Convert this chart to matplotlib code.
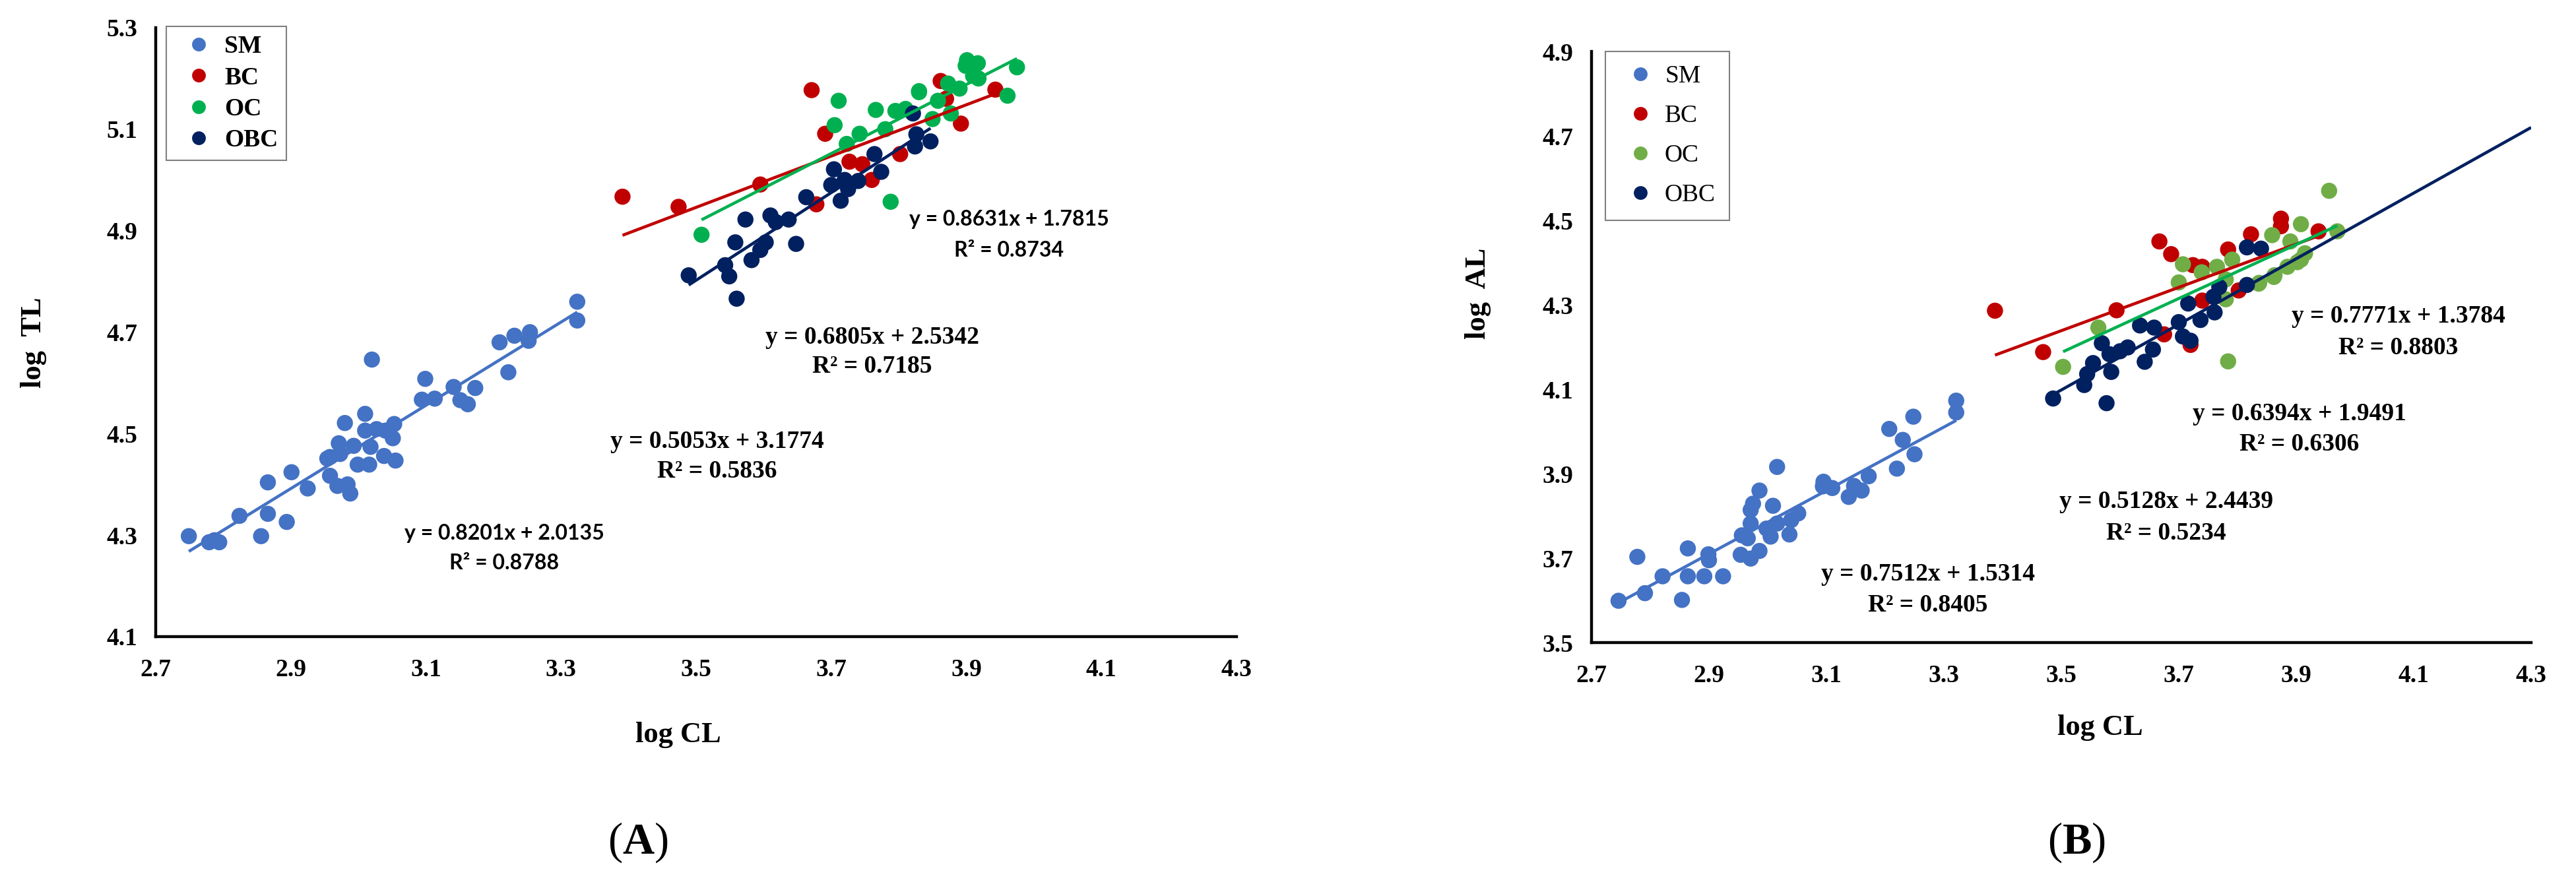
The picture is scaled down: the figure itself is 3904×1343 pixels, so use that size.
import matplotlib
matplotlib.use("Agg")
import numpy as np
import matplotlib.pyplot as plt
from matplotlib.lines import Line2D

plt.rcParams['font.family'] = ['Liberation Serif', 'DejaVu Serif']
plt.rcParams['mathtext.fontset'] = 'custom'
plt.rcParams['mathtext.rm'] = 'Liberation Serif'
plt.rcParams['mathtext.bf'] = 'Liberation Serif:bold'

groups = ['SM', 'BC', 'OC', 'OBC']

# ---- panel A: log CL vs log TL ----
a_sm_x = [2.749, 2.779, 2.794, 2.787, 2.824, 2.866, 2.856, 2.894, 2.866, 2.901, 2.925, 2.958, 2.958, 2.969,
          2.988, 2.984, 2.971, 2.980, 3.010, 2.999, 3.016, 3.010, 3.027, 3.018, 3.040, 3.053, 3.051, 3.038,
          3.055, 2.993, 2.954, 2.973, 3.020, 3.099, 3.094, 3.113, 3.141, 3.151, 3.162, 3.173, 3.209, 3.231,
          3.254, 3.252, 3.222, 3.324, 3.324]
a_sm_y = [4.298, 4.286, 4.286, 4.290, 4.338, 4.342, 4.298, 4.326, 4.404, 4.424, 4.392, 4.454, 4.417, 4.397,
          4.382, 4.400, 4.481, 4.521, 4.539, 4.439, 4.439, 4.506, 4.509, 4.474, 4.506, 4.519, 4.491, 4.456,
          4.447, 4.476, 4.451, 4.460, 4.646, 4.608, 4.567, 4.569, 4.592, 4.566, 4.558, 4.590, 4.680, 4.693,
          4.700, 4.683, 4.621, 4.760, 4.723]
a_bc_x = [3.391, 3.474, 3.595, 3.671, 3.691, 3.727, 3.746, 3.678, 3.802, 3.892, 3.862, 3.943, 3.870, 3.760]
a_bc_y = [4.967, 4.947, 4.991, 5.177, 5.091, 5.036, 5.031, 4.952, 5.051, 5.111, 5.195, 5.178, 5.160, 5.000]
a_oc_x = [3.508, 3.711, 3.705, 3.788, 3.742, 3.766, 3.795, 3.830, 3.780, 3.723, 3.810, 3.858, 3.877, 3.873,
          3.899, 3.910, 3.918, 3.901, 3.917, 3.975, 3.961, 3.830, 3.850, 3.890]
a_oc_y = [4.892, 5.156, 5.108, 4.957, 5.091, 5.138, 5.136, 5.173, 5.100, 5.071, 5.140, 5.156, 5.131, 5.190,
          5.225, 5.205, 5.200, 5.236, 5.230, 5.222, 5.166, 5.175, 5.120, 5.180]
a_obc_x = [3.489, 3.543, 3.549, 3.560, 3.558, 3.573, 3.582, 3.595, 3.603, 3.618, 3.648, 3.637, 3.663, 3.704,
           3.714, 3.725, 3.720, 3.740, 3.764, 3.774, 3.821, 3.824, 3.826, 3.847, 3.700, 3.610]
a_obc_y = [4.812, 4.832, 4.810, 4.766, 4.877, 4.922, 4.842, 4.862, 4.877, 4.917, 4.874, 4.922, 4.966, 5.021,
           4.959, 4.982, 5.000, 4.998, 5.051, 5.016, 5.131, 5.066, 5.090, 5.076, 4.990, 4.930]
a_slope = [0.8201, 0.5053, 0.6805, 0.8631]
a_inter = [2.0135, 3.1774, 2.5342, 1.7815]
a_r2 = [0.8788, 0.5836, 0.7185, 0.8734]

# ---- panel B: log CL vs log AL ----
b_sm_x = [2.746, 2.791, 2.778, 2.821, 2.854, 2.864, 2.864, 2.892, 2.899, 2.900, 2.924, 2.954, 2.971, 2.986,
          2.956, 2.966, 2.971, 2.971, 2.975, 2.986, 3.005, 3.009, 2.998, 3.016, 3.037, 3.040, 3.052, 3.016,
          3.095, 3.110, 3.094, 3.138, 3.147, 3.160, 3.172, 3.220, 3.207, 3.230, 3.248, 3.250, 3.321, 3.321]
b_sm_y = [3.599, 3.617, 3.703, 3.657, 3.601, 3.657, 3.723, 3.657, 3.709, 3.695, 3.657, 3.708, 3.699, 3.717,
          3.754, 3.747, 3.782, 3.814, 3.829, 3.860, 3.751, 3.824, 3.770, 3.782, 3.756, 3.790, 3.806, 3.916,
          3.881, 3.866, 3.870, 3.845, 3.871, 3.860, 3.894, 3.912, 4.006, 3.980, 4.035, 3.946, 4.073, 4.045]
b_bc_x = [3.387, 3.469, 3.594, 3.667, 3.687, 3.724, 3.740, 3.784, 3.823, 3.874, 3.874, 3.675, 3.720, 3.802,
          3.740, 3.938]
b_bc_y = [4.286, 4.188, 4.287, 4.450, 4.420, 4.394, 4.390, 4.431, 4.467, 4.504, 4.486, 4.230, 4.205, 4.334,
          4.310, 4.474]
b_oc_x = [3.503, 3.563, 3.784, 3.707, 3.700, 3.739, 3.765, 3.780, 3.780, 3.791, 3.836, 3.859, 3.862, 3.885,
          3.908, 3.908, 3.890, 3.956, 3.970, 3.915, 3.902, 3.863, 3.837]
b_oc_y = [4.153, 4.246, 4.166, 4.396, 4.353, 4.377, 4.390, 4.360, 4.313, 4.407, 4.350, 4.465, 4.366, 4.390,
          4.407, 4.491, 4.450, 4.570, 4.474, 4.422, 4.401, 4.370, 4.352]
b_obc_x = [3.486, 3.577, 3.539, 3.544, 3.554, 3.569, 3.582, 3.585, 3.613, 3.634, 3.642, 3.656, 3.658, 3.700,
           3.707, 3.720, 3.716, 3.737, 3.761, 3.759, 3.769, 3.816, 3.816, 3.840, 3.600]
b_obc_y = [4.078, 4.067, 4.110, 4.136, 4.162, 4.209, 4.183, 4.141, 4.199, 4.251, 4.165, 4.194, 4.246, 4.259,
           4.225, 4.215, 4.303, 4.264, 4.282, 4.319, 4.342, 4.347, 4.436, 4.433, 4.190]
b_slope = [0.7512, 0.5128, 0.6394, 0.7771]
b_inter = [1.5314, 2.4439, 1.9491, 1.3784]
b_r2 = [0.8405, 0.5234, 0.6306, 0.8803]

x_ticks = [2.7, 2.9, 3.1, 3.3, 3.5, 3.7, 3.9, 4.1, 4.3]
a_y_ticks = [4.1, 4.3, 4.5, 4.7, 4.9, 5.1, 5.3]
b_y_ticks = [3.5, 3.7, 3.9, 4.1, 4.3, 4.5, 4.7, 4.9]

W, H = 3905, 1343
fig = plt.figure(figsize=(W / 100, H / 100), dpi=100)


def px_axes(l, r, t, b):
    return fig.add_axes([l / W, 1 - b / H, (r - l) / W, (b - t) / H])


def setup(ax, yticks):
    ax.set_xlim(x_ticks[0], x_ticks[-1])
    ax.set_ylim(yticks[0], yticks[-1])
    ax.set_xticks(x_ticks)
    ax.set_yticks(yticks)
    ax.set_xticklabels([f'{v:.1f}' for v in x_ticks])
    ax.set_yticklabels([f'{v:.1f}' for v in yticks])
    for s in ['top', 'right']:
        ax.spines[s].set_visible(False)
    for s in ['left', 'bottom']:
        ax.spines[s].set_linewidth(3.2)
        ax.spines[s].set_color('black')
    ax.tick_params(axis='both', length=0, labelsize=27)
    ax.tick_params(axis='x', pad=24)
    ax.tick_params(axis='y', pad=20)
    for lab in ax.get_xticklabels() + ax.get_yticklabels():
        lab.set_fontweight('bold')


def draw_panel(ax, xs, ys, pt_colors, ln_colors, slopes, inters, extend_last):
    for x, y, c in zip(xs, ys, pt_colors):
        ax.scatter(x, y, s=310, color=c, edgecolors='none', zorder=2)
    for i, (x, m, b, c) in enumerate(zip(xs, slopes, inters, ln_colors)):
        x0, x1 = min(x), max(x)
        if extend_last and i == len(xs) - 1:
            x1 = x_ticks[-1]
        xx = np.array([x0, x1])
        ax.plot(xx, m * xx + b, color=c, lw=3.3, solid_capstyle='butt', zorder=3)


def eq_text(ax, x, y, m, b, r2, fam, size, dy):
    ax.text(x, y, f'y = {m:.4f}x + {b:.4f}', ha='center', va='center', fontsize=size,
            fontweight='bold', family=fam, zorder=5)
    ax.text(x, y - dy, f'R\u00b2 = {r2:.4f}', ha='center', va='center', fontsize=size,
            fontweight='bold', family=fam, zorder=5)


def make_legend(ax, colors, anchor, bold, spacing, bpad, hlen):
    handles = [Line2D([], [], marker='o', linestyle='none', markersize=15, color=c, markeredgewidth=0)
               for c in colors]
    leg = ax.legend(handles, groups, loc='upper left', bbox_to_anchor=(anchor[0] / W, 1 - anchor[1] / H),
                    bbox_transform=fig.transFigure, borderaxespad=0, frameon=True, fancybox=False,
                    edgecolor='#808080', framealpha=1, labelspacing=spacing,
                    borderpad=bpad, handlelength=hlen, handletextpad=0.1,
                    prop={'family': 'Liberation Serif', 'size': 27, 'weight': 'bold' if bold else 'normal'})
    leg.get_frame().set_linewidth(1.5)


serif = ['Liberation Serif', 'DejaVu Serif']
sans = ['Lato', 'DejaVu Sans']

# panel A
axA = px_axes(236, 1874, 42, 965)
setup(axA, a_y_ticks)
colA = ['#4472C4', '#C00000', '#00B050', '#002060']
draw_panel(axA, [a_sm_x, a_bc_x, a_oc_x, a_obc_x], [a_sm_y, a_bc_y, a_oc_y, a_obc_y],
           colA, colA, a_slope, a_inter, False)
eq_text(axA, 3.216, 4.303, a_slope[0], a_inter[0], a_r2[0], sans, 23, 0.058)
eq_text(axA, 3.531, 4.484, a_slope[1], a_inter[1], a_r2[1], serif, 27, 0.058)
eq_text(axA, 3.761, 4.690, a_slope[2], a_inter[2], a_r2[2], serif, 27, 0.058)
eq_text(axA, 3.963, 4.922, a_slope[3], a_inter[3], a_r2[3], sans, 23, 0.061)
make_legend(axA, colA, (252, 40), True, 0.33, 0.35, 1.9)
axA.set_ylabel('log  TL', fontsize=32, fontweight='bold')
axA.yaxis.label.set_va('center')
axA.yaxis.set_label_coords((51 - 236) / 1638, (965 - 519) / 923)
axA.set_xlabel('log CL', fontsize=32, fontweight='bold')
axA.xaxis.label.set_va('center')
axA.xaxis.set_label_coords((1028 - 236) / 1638, (965 - 1114) / 923)
fig.text(967 / W, 1 - 1277 / H, r'($\mathbf{A}$)', ha='center', va='center', fontsize=48)

# panel B
axB = px_axes(2412, 3836, 78, 974)
setup(axB, b_y_ticks)
ptB = ['#4472C4', '#C00000', '#70AD47', '#002060']
lnB = ['#4472C4', '#C00000', '#00B050', '#002060']
draw_panel(axB, [b_sm_x, b_bc_x, b_oc_x, b_obc_x], [b_sm_y, b_bc_y, b_oc_y, b_obc_y],
           ptB, lnB, b_slope, b_inter, True)
eq_text(axB, 3.273, 3.661, b_slope[0], b_inter[0], b_r2[0], serif, 27, 0.072)
eq_text(axB, 3.679, 3.833, b_slope[1], b_inter[1], b_r2[1], serif, 27, 0.075)
eq_text(axB, 3.905, 4.042, b_slope[2], b_inter[2], b_r2[2], serif, 27, 0.073)
eq_text(axB, 4.074, 4.272, b_slope[3], b_inter[3], b_r2[3], serif, 27, 0.074)
make_legend(axB, ptB, (2433, 78), False, 0.68, 0.55, 1.75)
axB.set_ylabel('log  AL', fontsize=32, fontweight='bold')
axB.yaxis.label.set_va('center')
axB.yaxis.set_label_coords((2240 - 2412) / 1424, (974 - 445) / 896)
axB.set_xlabel('log CL', fontsize=32, fontweight='bold')
axB.xaxis.label.set_va('center')
axB.xaxis.set_label_coords((3183 - 2412) / 1424, (974 - 1103) / 896)
fig.text(3147 / W, 1 - 1277 / H, r'($\mathbf{B}$)', ha='center', va='center', fontsize=48)

fig.savefig('out.png', dpi=100)
